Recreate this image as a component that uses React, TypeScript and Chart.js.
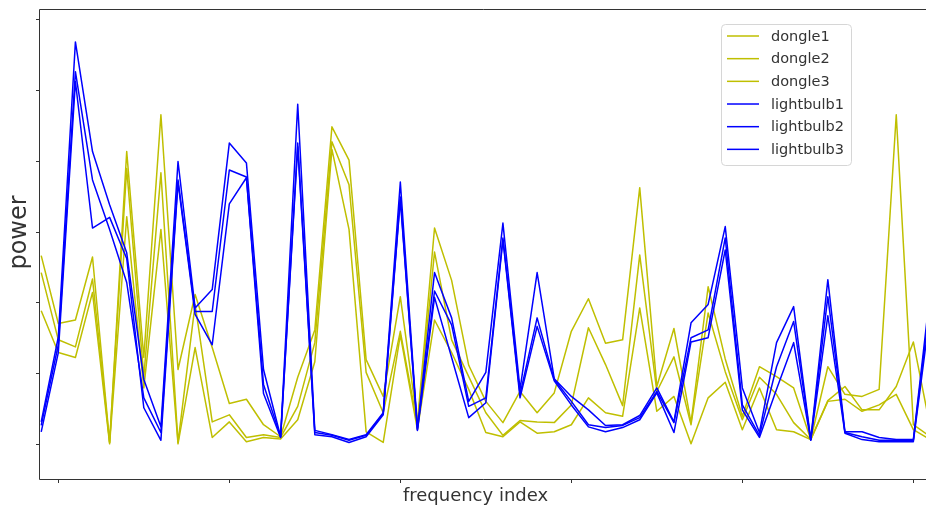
import React, { useEffect, useRef } from 'react';
import { Chart, registerables } from 'chart.js';

Chart.register(...registerables);

// frequency index of each sample (the last one lies just past the visible right edge)
const FREQ_INDEX = [
  0, 1, 2, 3, 4, 5, 6, 7, 8, 9, 10, 11, 12, 13, 14, 15, 16, 17, 18, 19, 20, 21, 22, 23, 24, 25, 26,
  27, 28, 29, 30, 31, 32, 33, 34, 35, 36, 37, 38, 39, 40, 41, 42, 43, 44, 45, 46, 47, 48, 49, 50, 51, 52,
];
const X_TICKS = [1, 11, 21, 31, 41, 51];
const Y_TICKS = [0, 1, 2, 3, 4, 5, 6];
const X_MIN = -0.1;
const X_MAX = 51.74;
const Y_MIN = -0.504;
const Y_MAX = 6.138;

const DONGLE1 = [
  2.66, 1.7, 1.75, 2.64, 0.02, 4.13, 1.22, 4.65, 1.05, 2.11, 1.36, 0.57, 0.63, 0.27, 0.1, 0.94, 1.61,
  4.48, 4.01, 1.19, 0.67, 2.08, 0.3, 3.05, 2.31, 1.11, 0.6, 0.3, 0.74, 0.44, 0.72, 1.59, 2.05, 1.42,
  1.47, 3.62, 0.81, 1.63, 0.3, 2.22, 1.2, 0.39, 1.09, 0.95, 0.79, 0.06, 1.09, 0.7, 0.67, 0.77, 4.65,
  0.27, 0.1,
];
const DONGLE2 = [
  2.42, 1.47, 1.37, 2.33, 0.02, 3.89, 0.95, 3.83, 0.02, 1.97, 0.31, 0.41, 0.09, 0.13, 0.09, 0.53, 1.43,
  4.27, 3.66, 1.01, 0.44, 1.59, 0.27, 2.71, 1.47, 0.95, 0.44, 0.12, 0.33, 0.31, 0.3, 0.55, 1.64, 1.12,
  0.54, 2.67, 0.74, 1.23, 0.27, 1.85, 1.02, 0.34, 0.94, 0.7, 0.3, 0.06, 0.61, 0.81, 0.48, 0.48, 0.81,
  1.44, 0.22,
];
const DONGLE3 = [
  1.88, 1.29, 1.22, 2.14, 0.0, 3.21, 0.79, 3.03, 0.0, 1.36, 0.09, 0.31, 0.03, 0.09, 0.07, 0.34, 1.16,
  4.16, 3.03, 0.17, 0.02, 1.54, 0.2, 1.75, 1.29, 0.77, 0.16, 0.1, 0.31, 0.15, 0.17, 0.27, 0.65, 0.44,
  0.39, 1.92, 0.46, 0.67, 0.0, 0.65, 0.87, 0.2, 0.79, 0.2, 0.17, 0.06, 0.6, 0.63, 0.46, 0.55, 0.7,
  0.2, 0.06,
];
const LIGHTBULB1 = [
  0.31, 1.51, 5.68, 4.13, 3.38, 2.7, 0.91, 0.24, 3.99, 1.92, 2.18, 4.25, 3.97, 1.05, 0.1, 4.8, 0.19,
  0.13, 0.06, 0.13, 0.44, 3.7, 0.22, 2.42, 1.78, 0.6, 1.01, 3.12, 0.77, 2.42, 0.92, 0.67, 0.48, 0.26,
  0.27, 0.4, 0.79, 0.31, 1.71, 1.97, 3.07, 0.79, 0.16, 1.43, 1.94, 0.06, 2.32, 0.17, 0.17, 0.09, 0.06,
  0.06, 2.18,
];
const LIGHTBULB2 = [
  0.26, 1.4, 5.26, 3.73, 3.03, 2.28, 0.65, 0.16, 3.73, 1.87, 1.87, 3.87, 3.77, 0.84, 0.1, 4.25, 0.16,
  0.12, 0.05, 0.12, 0.43, 3.49, 0.2, 2.16, 1.68, 0.53, 0.65, 2.91, 0.7, 1.78, 0.91, 0.6, 0.27, 0.23,
  0.26, 0.37, 0.74, 0.3, 1.5, 1.61, 2.91, 0.55, 0.12, 1.09, 1.73, 0.06, 2.08, 0.16, 0.1, 0.05, 0.05,
  0.05, 2.04,
];
const LIGHTBULB3 = [
  0.17, 1.29, 5.12, 3.05, 3.2, 2.62, 0.51, 0.05, 3.69, 1.83, 1.4, 3.39, 3.76, 0.71, 0.09, 4.2, 0.13,
  0.1, 0.02, 0.1, 0.41, 3.45, 0.19, 2.07, 1.22, 0.37, 0.58, 2.88, 0.65, 1.66, 0.89, 0.55, 0.24, 0.17,
  0.23, 0.34, 0.72, 0.16, 1.44, 1.5, 2.74, 0.48, 0.09, 0.77, 1.43, 0.05, 1.81, 0.15, 0.06, 0.03, 0.03,
  0.03, 1.9,
];

const SERIES_LABELS = ['dongle1', 'dongle2', 'dongle3', 'lightbulb1', 'lightbulb2', 'lightbulb3'];
const SERIES_VALUES = [DONGLE1, DONGLE2, DONGLE3, LIGHTBULB1, LIGHTBULB2, LIGHTBULB3];
const YELLOW = '#bfbf00';
const BLUE = '#0000ff';
const FONT = '"DejaVu Sans", "Liberation Sans", sans-serif';

export default function App() {
  const ref = useRef<HTMLCanvasElement>(null);

  useEffect(() => {
    const canvas = ref.current;
    if (!canvas) return;

    const datasets = SERIES_LABELS.map((label, k) => {
      const color = k < 3 ? YELLOW : BLUE;
      return {
        label,
        data: FREQ_INDEX.map((x, i) => ({ x, y: SERIES_VALUES[k][i] })),
        borderColor: color,
        backgroundColor: color,
        borderWidth: 1.5,
        borderJoinStyle: 'round',
        pointRadius: 0,
        fill: false,
        tension: 0,
        order: k < 3 ? 2 : 1,
      };
    });

    const framePlugin = {
      id: 'frame',
      afterDatasetsDraw(chart: any) {
        const { ctx, chartArea: a, scales } = chart;
        const xs = scales.x;
        const ys = scales.y;
        ctx.save();
        // spines
        ctx.strokeStyle = '#333333';
        ctx.lineWidth = 1;
        ctx.beginPath();
        ctx.moveTo(a.right + 2, a.top);
        ctx.lineTo(a.left, a.top);
        ctx.lineTo(a.left, a.bottom);
        ctx.lineTo(a.right + 2, a.bottom);
        ctx.stroke();
        // tick marks
        ctx.beginPath();
        for (const v of Y_TICKS) {
          const y = Math.round(ys.getPixelForValue(v)) + 0.5;
          ctx.moveTo(a.left - 3.5, y);
          ctx.lineTo(a.left, y);
        }
        for (const v of X_TICKS) {
          const x = Math.round(xs.getPixelForValue(v)) + 0.5;
          ctx.moveTo(x, a.bottom);
          ctx.lineTo(x, a.bottom + 3.5);
        }
        ctx.stroke();

        // axis titles
        ctx.fillStyle = '#333333';
        ctx.font = `18px ${FONT}`;
        ctx.textAlign = 'center';
        ctx.textBaseline = 'alphabetic';
        ctx.fillText('frequency index', 475.5, 500.5);
        ctx.save();
        ctx.translate(26, 232.5);
        ctx.rotate(-Math.PI / 2);
        ctx.font = `24px ${FONT}`;
        ctx.fillText('power', 0, 0);
        ctx.restore();

        // legend
        const bx = 721.5, by = 24.5, bw = 130, bh = 141, r = 4;
        ctx.beginPath();
        ctx.moveTo(bx + r, by);
        ctx.lineTo(bx + bw - r, by);
        ctx.arcTo(bx + bw, by, bx + bw, by + r, r);
        ctx.lineTo(bx + bw, by + bh - r);
        ctx.arcTo(bx + bw, by + bh, bx + bw - r, by + bh, r);
        ctx.lineTo(bx + r, by + bh);
        ctx.arcTo(bx, by + bh, bx, by + bh - r, r);
        ctx.lineTo(bx, by + r);
        ctx.arcTo(bx, by, bx + r, by, r);
        ctx.closePath();
        ctx.fillStyle = 'rgba(255,255,255,0.8)';
        ctx.fill();
        ctx.strokeStyle = '#d6d6d6';
        ctx.lineWidth = 1;
        ctx.stroke();

        ctx.font = `14.5px ${FONT}`;
        ctx.textAlign = 'left';
        ctx.textBaseline = 'middle';
        chart.data.datasets.forEach((ds: any, k: number) => {
          const y = 36 + k * 22.67;
          ctx.strokeStyle = ds.borderColor;
          ctx.lineWidth = 1.5;
          ctx.beginPath();
          ctx.moveTo(727, y);
          ctx.lineTo(759, y);
          ctx.stroke();
          ctx.fillStyle = '#333333';
          ctx.fillText(ds.label, 771, y + 1);
        });
        ctx.restore();
      },
    };

    const chart = new Chart(canvas, {
      type: 'line',
      data: { datasets: datasets as any },
      options: {
        animation: false,
        responsive: false,
        devicePixelRatio: 1,
        events: [],
        layout: { padding: { left: 39.5, top: 9.5, right: 0, bottom: 26.5 } },
        scales: {
          x: { type: 'linear', display: false, min: X_MIN, max: X_MAX },
          y: { type: 'linear', display: false, min: Y_MIN, max: Y_MAX },
        },
        plugins: { legend: { display: false }, tooltip: { enabled: false } },
      },
      plugins: [framePlugin],
    });
    return () => chart.destroy();
  }, []);

  return (
    <div style={{ position: 'absolute', left: 0, top: 0, width: 926, height: 506, background: '#fff' }}>
      <canvas ref={ref} width={926} height={506} style={{ display: 'block', width: 926, height: 506 }} />
    </div>
  );
}
